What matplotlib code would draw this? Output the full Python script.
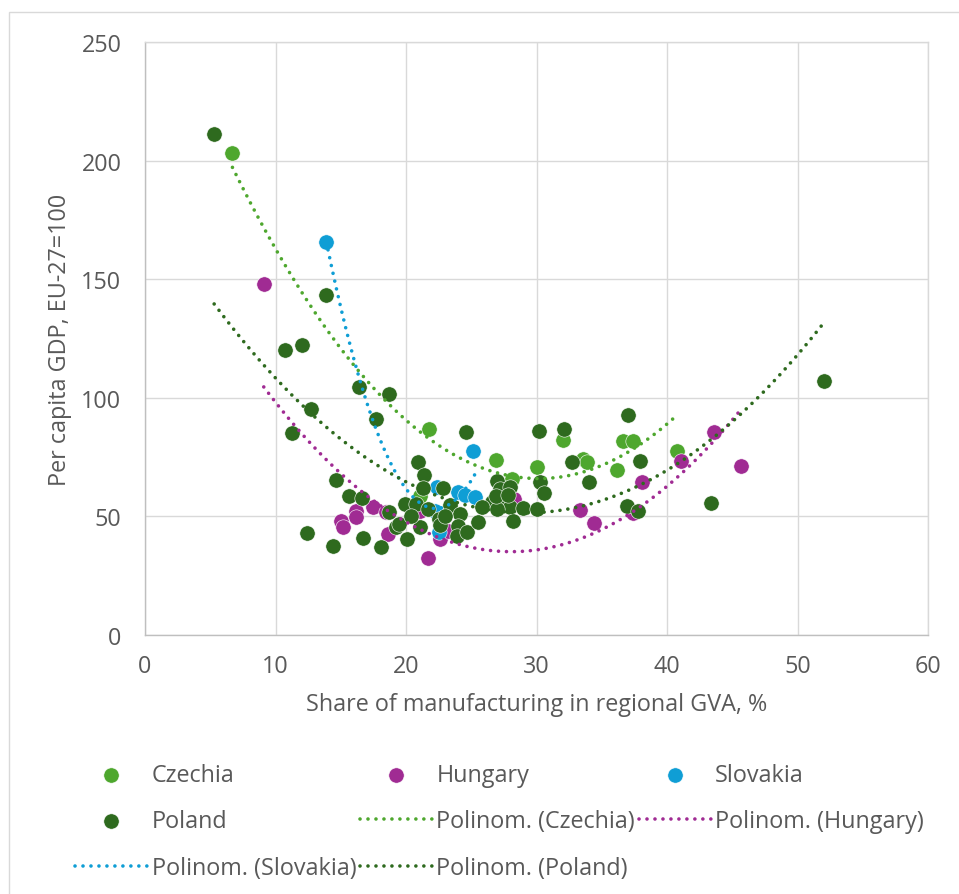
import numpy as np
import matplotlib
matplotlib.use("Agg")
import matplotlib.pyplot as plt
from matplotlib.patches import Rectangle

# ---------------- data ----------------
cz_x = [6.7, 21.8, 26.9, 30.0, 32.0, 33.6, 33.9, 36.2, 36.6, 37.4, 40.8, 28.1, 27.5, 21.1]
cz_y = [203.0, 87.0, 73.8, 71.0, 82.0, 74.0, 73.0, 69.6, 81.6, 81.8, 77.6, 65.8, 62.0, 58.6]

hu_x = [9.1, 15.0, 15.2, 16.2, 16.2, 17.5, 18.6, 21.7, 22.6, 21.1, 28.3, 33.3, 34.4, 37.4,
        38.1, 41.1, 43.6, 45.7, 23.2, 18.5]
hu_y = [148.0, 48.0, 45.5, 52.3, 49.7, 54.0, 42.6, 32.5, 40.5, 52.3, 57.2, 52.7, 47.2, 51.4,
        64.5, 73.4, 85.6, 71.2, 44.0, 51.9]

sk_x = [13.9, 25.1, 22.35, 24.0, 24.5, 25.3, 22.2, 22.5]
sk_y = [165.7, 77.6, 62.6, 60.2, 59.2, 58.0, 52.3, 43.4]

pl_x = [5.3, 10.7, 12.0, 13.9, 12.7, 11.3, 12.4, 14.4, 14.6, 15.6, 16.6, 16.7, 16.4, 17.7,
        18.1, 18.7, 18.7, 19.2, 20.1, 19.9, 20.8, 20.9, 21.4, 21.3, 22.8, 21.7, 21.1, 22.5,
        22.6, 23.4, 24.1, 24.0, 23.9, 24.7, 25.5, 24.6, 27.0, 27.2, 28.0, 26.6, 27.4, 28.0,
        29.0, 28.2, 30.2, 32.1, 37.0, 32.7, 37.9, 34.0, 30.3, 30.6, 30.0, 36.9, 37.8, 43.4,
        52.0, 19.5, 25.8, 27.0, 26.9, 23.0, 27.8, 20.4]
pl_y = [211.2, 120.2, 122.3, 143.3, 95.3, 85.2, 43.0, 37.5, 65.3, 58.8, 57.8, 40.9, 104.6, 91.0,
        37.1, 101.6, 51.9, 45.5, 40.5, 55.2, 55.2, 72.9, 67.5, 62.0, 62.0, 53.1, 45.5, 48.9,
        46.4, 54.8, 51.0, 46.0, 41.7, 43.4, 47.6, 85.6, 64.9, 61.6, 62.4, 56.0, 56.5, 54.0,
        53.5, 48.1, 86.0, 86.8, 92.7, 72.9, 73.4, 64.5, 64.5, 59.9, 53.1, 54.4, 52.3, 55.6,
        107.2, 47.0, 54.0, 53.0, 58.5, 50.0, 59.0, 50.0]

countries = ["Czechia", "Hungary", "Slovakia", "Poland"]
x_ticks = [0, 10, 20, 30, 40, 50, 60]
y_ticks = [0, 50, 100, 150, 200, 250]

colors = {"Czechia": "#4EA72E", "Hungary": "#A02B93", "Slovakia": "#0F9ED5", "Poland": "#2E6A1E"}
series = {"Czechia": (cz_x, cz_y), "Hungary": (hu_x, hu_y),
          "Slovakia": (sk_x, sk_y), "Poland": (pl_x, pl_y)}

# ---------------- style ----------------
plt.rcParams["font.family"] = ["Open Sans", "DejaVu Sans"]
FS = 16.8
TXT = "#595959"

W, H, DPI = 959, 895, 100
fig = plt.figure(figsize=(W / DPI, H / DPI), dpi=DPI)
ax = fig.add_axes([145 / W, 1 - 636 / H, (928 - 145) / W, (636 - 43) / H])

# chart area border
fig.patches.append(Rectangle((9 / W, -0.1), 1.2, 1 - 13 / H + 0.1, transform=fig.transFigure,
                             fill=False, edgecolor="#D9D9D9", linewidth=1.0))

handles = {}
for c in countries:
    xs, ys = series[c]
    handles[c] = ax.scatter(xs, ys, s=122, color=colors[c], edgecolors="white",
                            linewidths=0.4, zorder=3, label=c)

trend = {}
for c in countries:
    xs, ys = np.array(series[c][0]), np.array(series[c][1])
    coef = np.polyfit(xs, ys, 2)
    xx = np.linspace(xs.min(), xs.max(), 300)
    ln, = ax.plot(xx, np.polyval(coef, xx), color=colors[c], linewidth=2.6,
                  linestyle=(0, (0.01, 2.2)), dash_capstyle="round", zorder=4,
                  label=f"Polinom. ({c})")
    trend[c] = ln

ax.set_xlim(0, 60)
ax.set_ylim(0, 250)
ax.set_xticks(x_ticks)
ax.set_yticks(y_ticks)
ax.grid(True, color="#D9D9D9", linewidth=1.0, zorder=0)
ax.set_axisbelow(True)
for s in ["left", "bottom"]:
    ax.spines[s].set_color("#BFBFBF")
    ax.spines[s].set_linewidth(1.0)
for s in ["top", "right"]:
    ax.spines[s].set_color("#D9D9D9")
    ax.spines[s].set_linewidth(1.0)
ax.tick_params(length=0, labelsize=FS, labelcolor=TXT)
ax.tick_params(axis="y", pad=17)
ax.tick_params(axis="x", pad=14)

ax.set_xlabel("Share of manufacturing in regional GVA, %", fontsize=FS, color=TXT, va="center")
ax.xaxis.set_label_coords(0.5, -(705 - 636) / (636 - 43))
ax.set_ylabel("Per capita GDP, EU-27=100", fontsize=FS, color=TXT, va="center")
ax.yaxis.set_label_coords((60 - 145) / (928 - 145), 0.5)

order_h = [handles["Czechia"], handles["Poland"], trend["Slovakia"],
           handles["Hungary"], trend["Czechia"], trend["Poland"],
           handles["Slovakia"], trend["Hungary"]]
order_l = [h.get_label() for h in order_h]
leg = fig.legend(order_h, order_l, ncol=3, loc="upper left",
                 bbox_to_anchor=(75 / W, 1 - 764 / H), frameon=False,
                 fontsize=FS, labelcolor=TXT, scatterpoints=1,
                 handlelength=72 / (FS * DPI / 72), handletextpad=0.2, columnspacing=0.15,
                 labelspacing=0.96, borderpad=0, borderaxespad=0)

fig.savefig("out.png", dpi=DPI)
